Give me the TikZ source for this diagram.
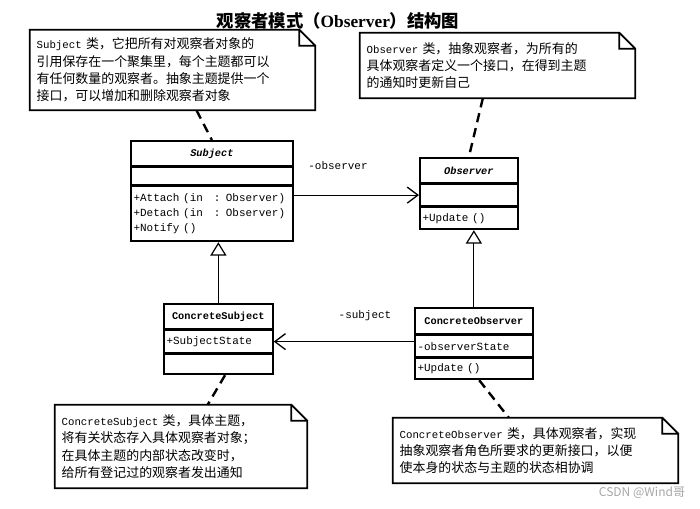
\documentclass[tikz,border=0pt]{standalone}
\usepackage{fontspec}
\setmainfont{Noto Sans CJK SC}
\setmonofont[Scale=0.83]{Liberation Mono}
\newfontfamily\titlelatin{Liberation Serif}
\usetikzlibrary{positioning,arrows.meta}

\newcommand\notefont{\fontsize{9.7}{13}\selectfont}
\newcommand\boxfont{\ttfamily\fontsize{9.9}{11.25}\selectfont}
\newcommand\namefont{\ttfamily\bfseries\fontsize{9.3}{11}\selectfont}

\tikzset{
  clsname/.style={draw, line width=1.3pt, inner xsep=2pt, inner ysep=1pt,
    text width=#1, align=center, font=\namefont},
  clspart/.style={draw, line width=1.3pt, inner xsep=2pt, inner ysep=1pt,
    text width=#1, align=left, font=\boxfont},
  note/.style={inner xsep=5pt, text width=#1, align=left, font=\notefont},
  notefold/.style={line width=1.3pt, line join=miter},
  notelink/.style={line width=1.8pt, dash pattern=on 7pt off 4.5pt},
  assoc/.style={line width=0.9pt, -{Straight Barb[length=8pt,width=12pt,line width=1pt]}},
  inherit/.style={line width=0.9pt, -{Triangle[open,length=10pt,width=12pt,fill=white]}},
  lbl/.style={font=\boxfont}
}

\begin{document}
\begin{tikzpicture}[x=0.75pt, y=-0.75pt]
    \useasboundingbox (0,0) rectangle (700,508);

    \node[font=\fontsize{13}{15}\selectfont\bfseries] (title) at (338,21)
        {观察者模式（{\titlelatin\bfseries Observer}）结构图};

    \node[clsname=117.5pt, minimum height=18.75pt, anchor=north west] (subj) at (130,140) {\itshape Subject};
    \node[clspart=117.5pt, minimum height=12.75pt, below=0pt of subj] (subjattr) {};
    \node[clspart=117.5pt, minimum height=41.25pt, below=0pt of subjattr] (subjops)
        {+Attach (in\hspace{1em}: Observer)\\+Detach (in\hspace{1em}: Observer)\\+Notify ()};

    \node[clsname=69.5pt, minimum height=18.75pt, anchor=north west] (obs) at (419,157) {\itshape Observer};
    \node[clspart=69.5pt, minimum height=15.75pt, below=0pt of obs] (obsattr) {};
    \node[clspart=69.5pt, minimum height=16.5pt, below=0pt of obsattr] (obsops) {+Update ()};

    \node[clsname=77.75pt, minimum height=18.75pt, anchor=north west] (csubj) at (163,303) {ConcreteSubject};
    \node[clspart=77.75pt, minimum height=16.5pt, below=0pt of csubj] (csubjattr) {+SubjectState};
    \node[clspart=77.75pt, minimum height=15pt, below=0pt of csubjattr] (csubjops) {};

    \node[clsname=84.5pt, minimum height=19.5pt, anchor=north west] (cobs) at (414,307) {ConcreteObserver};
    \node[clspart=84.5pt, minimum height=15.75pt, below=0pt of cobs] (cobsattr) {-observerState};
    \node[clspart=84.5pt, minimum height=15.75pt, below=0pt of cobsattr] (cobsops) {+Update ()};

    \draw[assoc] (subjops.east |- obsattr.west) -- (obsattr.west);
    \node[lbl] (lobs) at (338,166) {-observer};
    \draw[assoc] (cobsattr.west |- csubjattr.east) -- (csubjattr.east);
    \node[lbl] (lsubj) at (365,316) {-subject};

    \draw[inherit] (csubj.north) -- (csubj.north |- subjops.south);
    \draw[inherit] (cobs.north) -- (cobs.north |- obsops.south);

    \node[note=203.75pt, minimum height=60pt] (nsubj) at (172.5,70)
        {\texttt{Subject} 类，它把所有对观察者对象的\\
         引用保存在一个聚集里，每个主题都可以\\
         有任何数量的观察者。抽象主题提供一个\\
         接口，可以增加和删除观察者对象};
    \node[note=196.25pt, minimum height=48.75pt] (nobs) at (497.5,65.5)
        {\texttt{Observer} 类，抽象观察者，为所有的\\
         具体观察者定义一个接口，在得到主题\\
         的通知时更新自己};
    \node[note=179pt, minimum height=62.25pt] (ncsubj) at (181,446.5)
        {\texttt{ConcreteSubject} 类，具体主题，\\
         将有关状态存入具体观察者对象；\\
         在具体主题的内部状态改变时，\\
         给所有登记过的观察者发出通知};
    \node[note=203.75pt, minimum height=48.75pt] (ncobs) at (535.5,450.5)
        {\texttt{ConcreteObserver} 类，具体观察者，实现\\
         抽象观察者角色所要求的更新接口，以便\\
         使本身的状态与主题的状态相协调};

    \foreach \n in {nsubj,nobs,ncsubj,ncobs}
        \draw[notefold] (\n.north west) -- ([xshift=-12pt]\n.north east)
            -- ([yshift=-12pt]\n.north east) -- (\n.south east)
            -- (\n.south west) -- cycle
            ([xshift=-12pt]\n.north east) |- ([yshift=-12pt]\n.north east);

    \draw[notelink] ([xshift=18pt]nsubj.south) -- (subj.north);
    \draw[notelink] ([xshift=-11pt]nobs.south) -- (obs.north);
    \draw[notelink] ([xshift=5pt]csubjops.south) -- ([xshift=20pt]ncsubj.north);
    \draw[notelink] ([xshift=4pt]cobsops.south) -- ([xshift=-20pt]ncobs.north);

    \node[text=gray!70, font=\fontsize{9}{10}\selectfont] (wm) at (642,493) {CSDN @Wind哥};
\end{tikzpicture}
\end{document}
